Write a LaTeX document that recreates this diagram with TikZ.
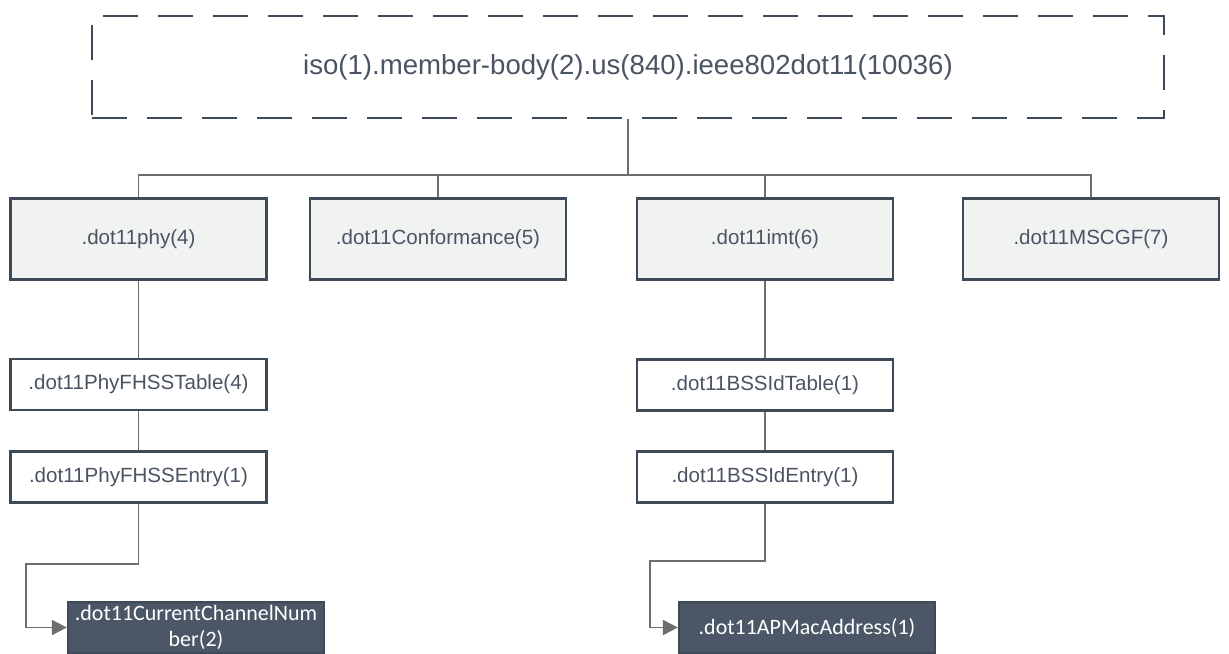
\documentclass[tikz,border=0pt]{standalone}
\usepackage{fontspec}
\setmainfont{Liberation Sans}
\newfontfamily\darkfont{Carlito}
\usetikzlibrary{arrows.meta}

\definecolor{boxline}{HTML}{3E4A57}
\definecolor{boxfill}{HTML}{F1F2F2}
\definecolor{linkgray}{HTML}{6E6E6E}
\definecolor{darkfill}{HTML}{4B5766}
\definecolor{txtgray}{HTML}{4A5462}

\tikzset{
  oidbox/.style={draw=boxline,line width=1.3pt,fill=boxfill,minimum width=5.12cm,
    minimum height=1.62cm,inner sep=0pt,text=txtgray,font=\fontsize{11.7}{14}\selectfont},
  tablebox/.style={oidbox,fill=white,minimum height=1.02cm},
  leafbox/.style={draw=boxline,line width=1.3pt,fill=darkfill,minimum width=5.12cm,
    minimum height=1.02cm,inner sep=0pt,text=white,align=center,
    font=\darkfont\fontsize{12.5}{14.5}\selectfont},
  link/.style={draw=linkgray,line width=1.1pt},
  leaflink/.style={link,-{Triangle[length=0.3cm,width=0.3cm]}}
}

\begin{document}
\begin{tikzpicture}[x=0.02cm,y=-0.02cm]
\useasboundingbox (0,0) rectangle (1229,653);
% root
\node[draw=boxline,line width=1.3pt,dash pattern=on 0.7cm off 0.4cm,minimum width=21.44cm,
  minimum height=2.04cm,text=txtgray,font=\fontsize{15.7}{18}\selectfont] (root) at (628,67)
  {iso(1).member-body(2).us(840).ieee802dot11(10036)};
% first level
\node[oidbox] (phy) at (138.5,239) {.dot11phy(4)};
\node[oidbox] (conf) at (438,239) {.dot11Conformance(5)};
\node[oidbox] (imt) at (765,239) {.dot11imt(6)};
\node[oidbox] (mscgf) at (1091,239) {.dot11MSCGF(7)};
\coordinate (bus) at (628,175);
\foreach \c in {phy,conf,imt,mscgf}
  \draw[link] (root.south) -- (root.south |- bus) -| (\c.north);
% tables and entries
\node[tablebox] (phytab) at (138.5,384.5) {.dot11PhyFHSSTable(4)};
\node[tablebox] (phyent) at (138.5,477) {.dot11PhyFHSSEntry(1)};
\node[tablebox] (bsstab) at (765,385) {.dot11BSSIdTable(1)};
\node[tablebox] (bssent) at (765,477) {.dot11BSSIdEntry(1)};
\draw[link] (phy) -- (phytab);
\draw[link] (phytab) -- (phyent);
\draw[link] (imt) -- (bsstab);
\draw[link] (bsstab) -- (bssent);
% leaves
\node[leafbox] (chan) at (196,627.5)
  {\raisebox{-3pt}[12pt][12pt]{\parbox{5cm}{\centering .dot11CurrentChannelNum\\ber(2)}}};
\node[leafbox] (apmac) at (807,627.5) {.dot11APMacAddress(1)};
\coordinate (bendA) at (26,564);
\coordinate (bendB) at (650,561);
\draw[leaflink] (phyent.south) |- (bendA) |- (chan.west);
\draw[leaflink] (bssent.south) |- (bendB) |- (apmac.west);
\end{tikzpicture}
\end{document}
